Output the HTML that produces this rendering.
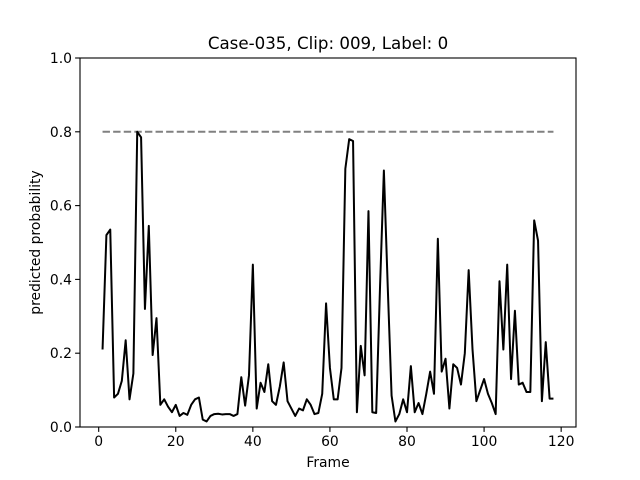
<!DOCTYPE html>
<html><head><meta charset="utf-8"><style>body{margin:0;background:#fff}svg{display:block;font-family:"DejaVu Sans","Liberation Sans",sans-serif}</style></head>
<body>
<svg id="chart" width="640" height="480" viewBox="0 0 640 480" xmlns="http://www.w3.org/2000/svg">
<rect width="640" height="480" fill="#fff"/>
<text x="328" y="49" font-size="16.67" text-anchor="middle">Case-035, Clip: 009, Label: 0</text>
<g id="plot"></g>
<rect x="80" y="58" width="496" height="369" fill="none" stroke="#000" stroke-width="1.1"/>
<text x="328" y="467" font-size="13.9" text-anchor="middle">Frame</text>
<text x="0" y="0" font-size="13.9" text-anchor="middle" transform="translate(40,242.5) rotate(-90)">predicted probability</text>
</svg>
<script>
const probs = [0.21,0.52,0.535,0.08,0.09,0.125,0.235,0.075,0.145,0.80,0.785,0.32,0.545,0.195,0.295,0.06,0.075,0.055,0.04,0.06,0.03,0.038,0.033,0.06,0.075,0.08,0.02,0.015,0.03,0.035,0.036,0.034,0.035,0.035,0.03,0.035,0.135,0.058,0.14,0.44,0.05,0.12,0.095,0.17,0.07,0.06,0.11,0.175,0.07,0.05,0.03,0.05,0.045,0.075,0.06,0.035,0.038,0.09,0.335,0.16,0.075,0.075,0.16,0.70,0.78,0.775,0.04,0.22,0.14,0.585,0.04,0.038,0.38,0.695,0.38,0.085,0.015,0.035,0.075,0.04,0.165,0.04,0.065,0.035,0.09,0.15,0.09,0.51,0.15,0.185,0.05,0.17,0.16,0.115,0.2,0.425,0.21,0.07,0.1,0.13,0.09,0.065,0.035,0.395,0.21,0.44,0.13,0.315,0.115,0.12,0.095,0.095,0.56,0.505,0.07,0.23,0.077,0.077];
const threshold = 0.8;
const xTicks = [0,20,40,60,80,100,120];
const yTicks = [0.0,0.2,0.4,0.6,0.8,1.0];
const NS='http://www.w3.org/2000/svg';
const X0=80,X1=576,Y0=427,Y1=58;
const xmin=-4.85,xmax=123.85;
const sx=v=>X0+(v-xmin)/(xmax-xmin)*(X1-X0);
const sy=v=>Y0-(v-0)/(1-0)*(Y0-Y1);
const g=document.getElementById('plot');
function mk(t,a){const e=document.createElementNS(NS,t);for(const k in a)e.setAttribute(k,a[k]);g.appendChild(e);return e;}
xTicks.forEach(t=>{
 const l=mk('line',{x1:sx(t),x2:sx(t),y1:Y0,y2:Y0+4.9,stroke:'#000','stroke-width':1.1});
 
 
 const tx=mk('text',{x:sx(t),y:Y0+19,'font-size':13.9,'text-anchor':'middle'});tx.textContent=t;
 
 
});
yTicks.forEach(t=>{
 const l=mk('line',{x1:X0-4.9,x2:X0,y1:sy(t),y2:sy(t),stroke:'#000','stroke-width':1.1});
 
 
 const tx=mk('text',{x:X0-8,y:sy(t)+5,'font-size':13.9,'text-anchor':'end'});tx.textContent=t.toFixed(1);
 
 
});
const th=mk('line',{x1:sx(1),x2:sx(probs.length),y1:sy(threshold),y2:sy(threshold),stroke:'#808080','stroke-width':2,'stroke-dasharray':'7.4,3.2'});


const pts=probs.map((v,i)=>sx(i+1).toFixed(2)+','+sy(v).toFixed(2)).join(' ');
const pl=mk('polyline',{points:pts,fill:'none',stroke:'#000','stroke-width':2,'stroke-linejoin':'round'});


</script>
</body></html>
